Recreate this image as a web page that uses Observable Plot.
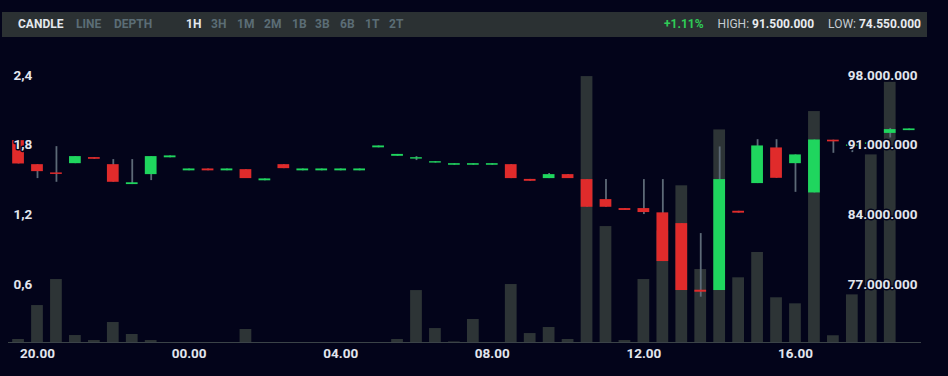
<!DOCTYPE html>
<html>
<head>
<meta charset="utf-8">
<script src="https://cdn.jsdelivr.net/npm/d3@7"></script>
<script src="https://cdn.jsdelivr.net/npm/@observablehq/plot@0.6"></script>
<style>
  html, body { margin: 0; padding: 0; background: #03041a; width: 948px; height: 376px; overflow: hidden; font-family: Roboto, "Noto Sans", sans-serif; }
  #bar { position: relative; margin: 12px 0 0 2px; width: 925px; height: 25px; background: #2b3133; font-size: 12px; line-height: 25px; }
  #bar span.btn { position: absolute; top: 0; font-weight: bold; color: #5b6d76; }
  #bar span.btn.on { color: #e4e8ee; }
  #right { position: absolute; right: 6px; top: 0; white-space: nowrap; color: #c6ccd2; }
  #right b { color: #e8ebef; }
  #chart svg { display: block; }
</style>
</head>
<body>
<div id="bar"></div>
<div id="chart"></div>
<script>
// ---- data (prices in millions) ----
const times = ["19:30","20:00","20:30","21:00","21:30","22:00","22:30","23:00","23:30","00:00",
  "00:30","01:00","01:30","02:00","02:30","03:00","03:30","04:00","04:30","05:00",
  "05:30","06:00","06:30","07:00","07:30","08:00","08:30","09:00","09:30","10:00",
  "10:30","11:00","11:30","12:00","12:30","13:00","13:30","14:00","14:30","15:00",
  "15:30","16:00","16:30","17:00","17:30","18:00","18:30","19:00"];
const open  = [90.27,87.86,87.03,87.96,88.57,87.86,85.86,86.86,88.55,87.24,
  87.43,87.24,87.36,86.24,87.86,87.24,87.24,87.24,87.24,89.55,
  88.70,88.42,88.02,87.80,87.80,87.80,87.86,86.38,86.46,86.86,
  86.36,84.35,83.45,83.45,83.02,81.94,75.25,75.22,83.18,85.96,
  89.54,87.96,85.02,90.32,89.70,89.90,91.00,91.28];
const close = [87.93,87.16,86.88,88.67,88.40,86.09,86.04,88.67,88.74,87.43,
  87.24,87.43,86.46,86.43,87.46,87.43,87.43,87.43,87.43,89.74,
  88.89,88.56,88.16,87.96,87.96,87.96,86.46,86.19,86.86,86.46,
  83.58,83.58,83.26,83.05,78.13,75.22,75.05,86.36,82.99,89.74,
  86.49,88.84,90.34,90.15,89.85,90.05,91.38,91.45];
const high  = [90.27,87.86,89.67,88.67,88.57,88.37,88.37,88.67,88.74,87.43,
  87.43,87.43,87.36,86.43,87.86,87.43,87.43,87.43,87.43,89.74,
  88.89,88.67,88.16,87.96,87.96,87.96,87.86,86.38,86.97,86.86,
  86.36,86.36,83.45,86.36,86.36,81.94,80.94,89.64,83.18,90.37,
  90.37,88.84,90.34,90.32,89.85,90.05,91.50,91.45];
const low   = [87.93,86.46,86.09,87.96,88.40,86.09,85.86,86.26,88.55,87.24,
  87.24,87.24,86.46,86.24,87.46,87.24,87.24,87.24,87.24,89.55,
  88.70,88.27,88.02,87.80,87.80,87.80,86.46,86.19,86.46,86.46,
  83.58,83.58,83.26,82.85,78.13,75.22,74.55,75.22,82.99,85.96,
  86.49,85.08,85.02,89.00,89.07,89.90,90.54,91.28];
const volume = [0.026,0.318,0.542,0.060,0.017,0.172,0.069,0.017,0,0,
  0,0,0.112,0,0,0,0,0,0,0,
  0.026,0.447,0.120,0.005,0.198,0,0.499,0.077,0.129,0.026,
  2.289,0.998,0.017,0.542,0.960,1.349,0.628,1.830,0.557,0.775,
  0.385,0.333,1.988,0.058,0.410,1.615,2.240,0];

const volumeTicks = [0.6, 1.2, 1.8, 2.4];
const priceTicks = [77, 84, 91, 98];
const hourTicks = [20, 24, 28, 32, 36, 40];
const chartTypes = ["CANDLE", "LINE", "DEPTH"];
const intervals = ["1H", "3H", "1M", "2M", "1B", "3B", "6B", "1T", "2T"];
const change = "+1.11%";
const highLabel = "91.500.000";
const lowLabel = "74.550.000";

// ---- header bar ----
const bar = document.getElementById("bar");
const btnLeft = [16, 74, 112, 184, 209, 235, 262, 290, 313, 338, 363, 387];
[...chartTypes, ...intervals].forEach((t, i) => {
  const s = document.createElement("span");
  s.className = "btn" + (t === "CANDLE" || t === "1H" ? " on" : "");
  s.style.left = btnLeft[i] + "px";
  s.textContent = t;
  bar.appendChild(s);
});
const right = document.createElement("div");
right.id = "right";
right.innerHTML = `<b style="color:#2fcc57">${change}</b><span style="margin-left:14px">HIGH: </span><b>${highLabel}</b><span style="margin-left:14px">LOW: </span><b>${lowLabel}</b>`;
bar.appendChild(right);

// ---- rows ----
let prev = -Infinity, dayOff = 0;
const rows = times.map((t, i) => {
  const [hh, mm] = t.split(":").map(Number);
  let h = hh + mm / 60 + dayOff;
  if (h < prev) { dayOff += 24; h += 24; }
  prev = h;
  return {h, o: open[i], c: close[i], hi: high[i], lo: low[i], v: volume[i]};
});

const base = 70, volToPrice = 28 / 2.4;
const half = 0.155;
const green = "#1fd65e", red = "#e02b2b";

const chart = Plot.plot({
  width: 948,
  height: 339,
  marginLeft: 8,
  marginRight: 27,
  marginTop: 26.2,
  marginBottom: 34,
  style: {background: "transparent", color: "#e2e6ee", fontFamily: "Roboto, sans-serif", fontSize: "13.5px", fontWeight: "bold"},
  x: {domain: [19.235, 43.325]},
  y: {domain: [base, 98]},
  marks: [
    Plot.rectY(rows.filter(d => d.v > 0), {x1: d => d.h - half, x2: d => d.h + half, y1: base, y2: d => base + d.v * volToPrice, fill: "#2d3436"}),
    Plot.ruleY([base], {stroke: "#3b4348", strokeWidth: 1}),
    Plot.ruleX(rows, {x: "h", y1: "lo", y2: "hi", stroke: "#5d6a77", strokeWidth: 1.8}),
    Plot.rectY(rows.filter(d => d.c >= d.o), {x1: d => d.h - half, x2: d => d.h + half, y1: "o", y2: "c", fill: green}),
    Plot.rectY(rows.filter(d => d.c < d.o), {x1: d => d.h - half, x2: d => d.h + half, y1: "o", y2: "c", fill: red}),
    Plot.axisX(hourTicks, {tickSize: 0, tickPadding: 6, tickFormat: h => String(h % 24).padStart(2, "0") + ".00", label: null}),
    Plot.axisY(volumeTicks.map(v => base + v * volToPrice), {anchor: "left", tickSize: 0, tickPadding: 0, dx: 5, dy: 11.7, textAnchor: "start",
      tickFormat: p => ((p - base) / volToPrice).toFixed(1).replace(".", ","), label: null,
      textStroke: "#03041a", textStrokeWidth: 3}),
    Plot.axisY(priceTicks, {anchor: "right", tickSize: 0, tickPadding: 0, dx: -4, dy: 11.7, textAnchor: "end",
      tickFormat: p => d3.format(",")(p * 1e6).replace(/,/g, "."), label: null,
      textStroke: "#03041a", textStrokeWidth: 3})
  ]
});
document.getElementById("chart").appendChild(chart);
</script>
</body>
</html>
